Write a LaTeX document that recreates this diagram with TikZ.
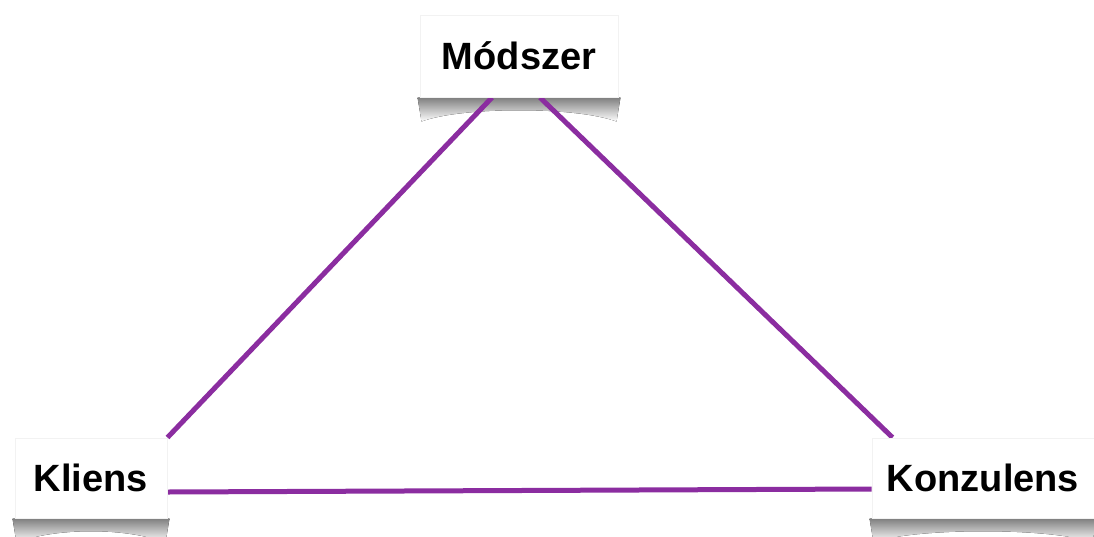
\documentclass[tikz,border=0pt]{standalone}
\usepackage{fontspec}
\setmainfont{Liberation Sans}
\usetikzlibrary{positioning,backgrounds}

\definecolor{lila}{RGB}{139,45,160}

\tikzset{
  doboz/.style={rectangle, fill=white, draw=black!5, line width=1pt, inner sep=0pt,
    font=\bfseries\fontsize{38}{44}\selectfont},
  el/.style={draw=lila, line width=5pt},
}

% arnyek a doboz alatt
\newcommand{\arnyek}[1]{%
  \fill[top color=black!50, bottom color=white]
    ([xshift=-2pt]#1.south west) -- ++(4,24)
    .. controls +(40,-15) and +(-40,-15) .. ([shift={(-2,24)}]#1.south east)
    -- ([xshift=2pt]#1.south east) -- cycle;
}

\begin{document}
\begin{tikzpicture}[x=1pt, y=-1pt]
  \useasboundingbox (0,0) rectangle (1094,536);

  % Nodos
  \node[doboz, minimum width=198pt, minimum height=82pt] (modszer) at (519,56) {Módszer};
  \node[doboz, minimum width=152pt, minimum height=80pt] (kliens) at (91,478) {Kliens};
  \node[doboz, minimum width=222pt, minimum height=80pt] (konzulens) at (983,478) {Konzulens};

  \begin{scope}[on background layer]
    \arnyek{modszer}
    \arnyek{kliens}
    \arnyek{konzulens}

    \draw[el] (kliens.north east) -- ([xshift=-27pt]modszer.south);
    \draw[el] ([xshift=21pt]modszer.south) -- ([xshift=21pt]konzulens.north west);
    \draw[el] ([yshift=-14pt]kliens.east) -- ([yshift=-11pt]konzulens.west);
  \end{scope}
\end{tikzpicture}
\end{document}
